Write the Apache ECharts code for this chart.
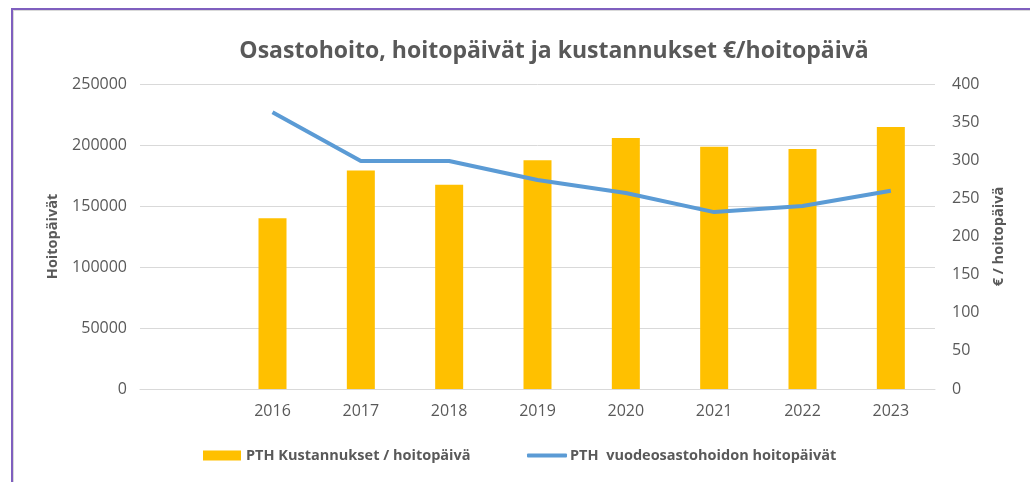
<!DOCTYPE html>
<html>
<head>
<meta charset="utf-8">
<script src="https://cdn.jsdelivr.net/npm/echarts@6/dist/echarts.min.js"></script>
<style>
    html, body { margin: 0; padding: 0; background: #fff; }
    #frame {
        position: absolute; left: 11px; top: 8px; width: 1019px; height: 474px;
        border-left: 2px solid #7f5fbf; border-top: 2px solid #7f5fbf;
        box-shadow: inset 1px 1px 0 #d9d9d9;
    }
    #chart { position: absolute; left: 0; top: 0; width: 1030px; height: 482px; }
</style>
</head>
<body>
<div id="frame"></div>
<div id="chart"></div>
<script>
var years = ['', '2016', '2017', '2018', '2019', '2020', '2021', '2022', '2023'];
var kustannukset = [null, 140000, 179000, 167500, 187500, 205800, 198500, 196800, 214800];
var hoitopaivat = [null, 363, 299, 299, 274, 257, 232, 240, 260];

var FONT = '"Open Sans", "Noto Sans", sans-serif';
var TEXT = '#595959';

var chartDom = document.getElementById('chart');
var myChart = echarts.init(chartDom);
var option;

option = {
    title: {
        text: 'Osastohoito, hoitopäivät ja kustannukset €/hoitopäivä',
        left: 549,
        textAlign: 'center',
        top: 35,
        textStyle: { color: TEXT, fontSize: 23, fontWeight: 'bold', fontFamily: FONT }
    },
    grid: { left: 140, right: 95, top: 84, bottom: 93, containLabel: false },
    legend: [{
        data: ['PTH Kustannukset / hoitopäivä'],
        left: 203, top: 448, padding: 0,
        itemWidth: 38, itemHeight: 10, itemGap: 8,
        icon: 'rect',
        textStyle: { color: TEXT, fontSize: 14.5, fontWeight: 'bold', fontFamily: FONT }
    }, {
        data: ['PTH  vuodeosastohoidon hoitopäivät'],
        left: 527, top: 448, padding: 0,
        itemWidth: 40, itemHeight: 4,
        icon: 'roundRect',
        textStyle: { color: TEXT, fontSize: 14.5, fontWeight: 'bold', fontFamily: FONT, padding: [0, 0, 0, -2] }
    }],
    xAxis: {
        type: 'category',
        data: years,
        axisLine: { lineStyle: { color: '#d9d9d9', width: 1 } },
        axisTick: { show: false },
        axisLabel: { color: TEXT, fontSize: 16, fontFamily: FONT, margin: 14 }
    },
    yAxis: [{
        type: 'value',
        min: 0, max: 250000, interval: 50000,
        name: 'Hoitopäivät',
        nameLocation: 'middle',
        nameGap: 80,
        nameTextStyle: { color: TEXT, fontSize: 14.5, fontWeight: 'bold', fontFamily: FONT },
        axisLine: { show: false },
        axisTick: { show: false },
        axisLabel: { color: TEXT, fontSize: 16, fontFamily: FONT, margin: 13, formatter: function (v) { return String(v); } },
        splitLine: { lineStyle: { color: '#d9d9d9', width: 1 } }
    }, {
        type: 'value',
        min: 0, max: 400, interval: 50,
        name: '€ / hoitopäivä',
        nameLocation: 'middle',
        nameGap: 56,
        nameRotate: 90,
        nameTextStyle: { color: TEXT, fontSize: 14.5, fontWeight: 'bold', fontFamily: FONT },
        axisLine: { show: false },
        axisTick: { show: false },
        axisLabel: { color: TEXT, fontSize: 16, fontFamily: FONT, margin: 17 },
        splitLine: { show: false }
    }],
    series: [{
        name: 'PTH Kustannukset / hoitopäivä',
        type: 'bar',
        data: kustannukset,
        barWidth: 28,
        yAxisIndex: 0,
        itemStyle: { color: '#ffc000' }
    }, {
        name: 'PTH  vuodeosastohoidon hoitopäivät',
        type: 'line',
        data: hoitopaivat,
        yAxisIndex: 1,
        symbol: 'none',
        lineStyle: { color: '#5b9bd5', width: 4 },
        itemStyle: { color: '#5b9bd5' }
    }]
};

myChart.setOption(option);
</script>
</body>
</html>
